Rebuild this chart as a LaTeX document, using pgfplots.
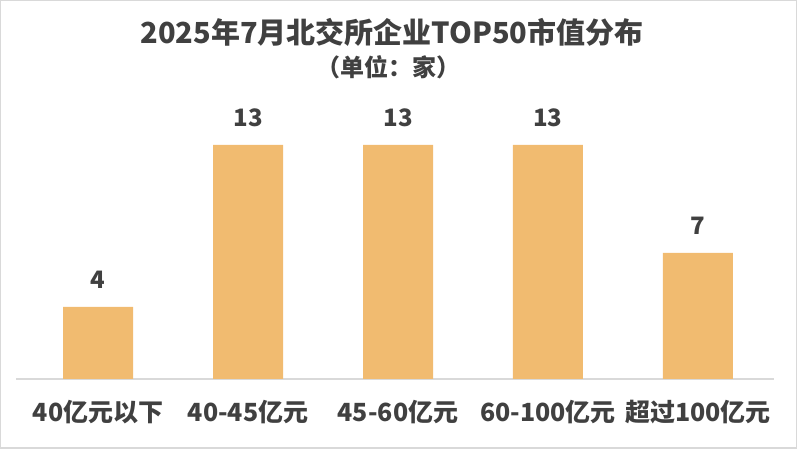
\documentclass[border=0pt]{standalone}
\usepackage{fontspec}
\setmainfont{Noto Sans CJK SC}
\usepackage{pgfplots}
\pgfplotsset{compat=1.18}
\definecolor{barc}{RGB}{241,187,112}
\definecolor{txt}{RGB}{64,64,64}
\definecolor{axc}{RGB}{217,217,217}
\begin{document}
\begin{tikzpicture}[x=1bp,y=1bp]
\path[use as bounding box] (0,0) rectangle (797,449);
\draw[axc, line width=1.5bp] (0.75,0.75) rectangle (796.25,448.25);
\node[font=\fontsize{29bp}{33bp}\selectfont\bfseries, text=txt] at (392,417) {2025年7月北交所企业TOP50市值分布};
\node[font=\fontsize{24bp}{28bp}\selectfont\bfseries, text=txt] at (388,382) {（单位：家）};
\begin{axis}[
  at={(16bp,70bp)}, anchor=south west,
  scale only axis, width=758bp, height=288bp,
  xmin=-0.547, xmax=4.507, ymin=0, ymax=16,
  axis x line*=bottom, axis y line=none,
  x axis line style={draw=axc, line width=1.5bp, -},
  xtick={0,1,2,3,4},
  xticklabels={40亿元以下,40-45亿元,45-60亿元,60-100亿元,超过100亿元},
  major tick length=0pt,
  xticklabel style={font=\fontsize{25bp}{29bp}\selectfont\bfseries, text=txt, yshift=-18bp},
  ybar, bar width=70bp,
  nodes near coords,
  every node near coord/.append style={font=\fontsize{24bp}{28bp}\selectfont\bfseries, text=txt, yshift=15bp},
  /pgf/number format/assume math mode=true,
  clip=false,
]
\addplot[fill=barc, draw=none] coordinates {(0,4) (1,13) (2,13) (3,13) (4,7)};
\end{axis}
\end{tikzpicture}
\end{document}
